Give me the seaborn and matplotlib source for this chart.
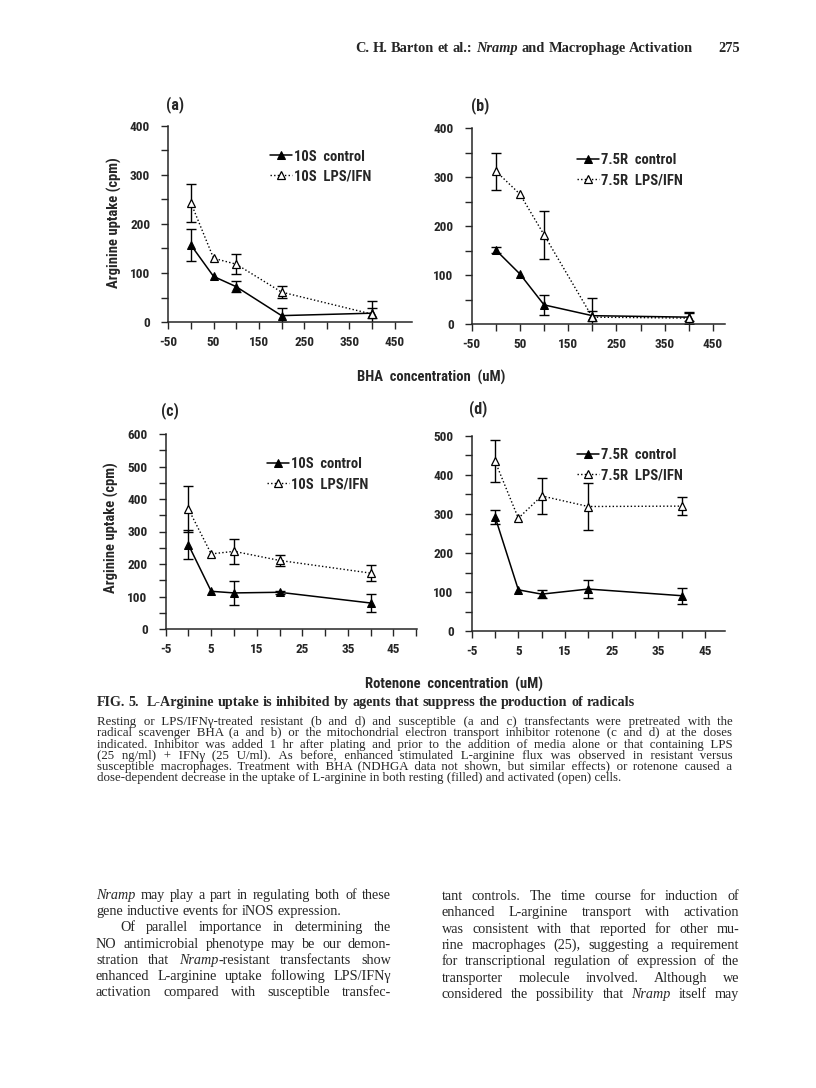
import numpy as np
import matplotlib
matplotlib.use('Agg')
import matplotlib.pyplot as plt
import seaborn as sns
from matplotlib import font_manager
from matplotlib.ticker import FixedLocator

# ---- data ----
bha_dose = [0, 50, 100, 200, 400]
rot_dose = [0, 5, 10, 20, 40]

a_ctrl = [157, 93, 72, 13, 18]
a_ctrl_err = [33, 0, 11, 15, 10]
a_lps = [243, 130, 118, 61, 16]
a_lps_err = [39, 0, 20, 12, 26]

b_ctrl = [151, 102, 39, 17, 14]
b_ctrl_err = [7, 0, 21, 10, 8]
b_lps = [312, 265, 182, 14, 12]
b_lps_err = [38, 0, 49, 40, 12]

c_ctrl = [259, 116, 111, 113, 80]
c_ctrl_err = [45, 0, 36, 5, 29]
c_lps = [369, 231, 239, 211, 172]
c_lps_err = [72, 0, 38, 16, 25]

d_ctrl = [293, 106, 95, 108, 91]
d_ctrl_err = [18, 0, 10, 24, 20]
d_lps = [435, 289, 346, 319, 320]
d_lps_err = [54, 0, 45, 60, 23]

bha_ticks = [-50, 50, 150, 250, 350, 450]
rot_ticks = [-5, 5, 15, 25, 35, 45]

W, H = 816, 1088
sns.set_style('ticks')

# narrow bold sans like the original, if one is installed
installed = {f.name for f in font_manager.fontManager.ttflist}
sans, k = 'Liberation Sans', 0.86
for name in ['Liberation Sans Narrow', 'Roboto Condensed', 'Open Sans Condensed']:
    if name in installed:
        sans, k = name, 1.0
        break
plt.rcParams['font.family'] = sans
plt.rcParams['font.weight'] = 'bold'
plt.rcParams['axes.unicode_minus'] = False

LAB = 10.5 * k     # labels / legend
TICK = 9.5

fig = plt.figure(figsize=(W / 100, H / 100), dpi=100)
fig.patch.set_facecolor('white')


def add_ax(left, top, right, bottom):
    return fig.add_axes([left / W, 1 - bottom / H, (right - left) / W, (bottom - top) / H])


def draw_panel(ax, x, ctrl, ctrl_err, lps, lps_err, name, xlim, ylim, xticks, ystep):
    sns.lineplot(x=x, y=ctrl, ax=ax, color='black', lw=1.1, marker='^', markersize=6,
                 markerfacecolor='black', markeredgecolor='black', errorbar=None,
                 label=f'{name}  control')
    sns.lineplot(x=x, y=lps, ax=ax, color='black', lw=1.0, linestyle=(0, (1, 1.6)),
                 marker='^', markersize=6, markerfacecolor='white', markeredgecolor='black',
                 markeredgewidth=0.9, errorbar=None, label=f'{name}  LPS/IFN')
    for yy, ee in [(ctrl, ctrl_err), (lps, lps_err)]:
        xs = np.array(x, float)
        yy = np.array(yy, float)
        ee = np.array(ee, float)
        m = ee > 0
        ax.errorbar(xs[m], yy[m], yerr=ee[m], fmt='none', ecolor='black',
                    elinewidth=1.0, capsize=3.3, capthick=1.0, zorder=1)
    ax.set_xlim(*xlim)
    ax.set_ylim(*ylim)
    ax.xaxis.set_major_locator(FixedLocator(xticks))
    step = xticks[1] - xticks[0]
    ax.xaxis.set_minor_locator(FixedLocator([t + step / 2 for t in xticks]))
    ax.yaxis.set_major_locator(FixedLocator(np.arange(0, ylim[1] + 1, ystep)))
    ax.yaxis.set_minor_locator(FixedLocator(np.arange(ystep / 2, ylim[1], ystep)))
    sns.despine(ax=ax)
    for s in ['left', 'bottom']:
        ax.spines[s].set_linewidth(1.1)
    ax.tick_params(axis='both', which='both', direction='out', length=5, width=1.0)
    ax.tick_params(axis='y', which='major', pad=8, labelsize=TICK)
    ax.tick_params(axis='x', which='major', pad=5, labelsize=TICK)
    for lab in ax.get_xticklabels() + ax.get_yticklabels():
        lab.set_fontweight('bold')
    ax.set_xlabel('')
    ax.set_ylabel('')
    ax.set_facecolor('white')


def legend(ax, bx, by):
    ax.legend(loc='upper left', bbox_to_anchor=(bx, by), frameon=False,
              handlelength=1.5, handletextpad=0.15, labelspacing=0.4, borderpad=0,
              borderaxespad=0, numpoints=1, prop={'weight': 'bold', 'size': LAB})


ax_a = add_ax(168.3, 126, 412, 322)
ax_b = add_ax(471.7, 128, 725, 324)
ax_c = add_ax(165.7, 434, 417, 629)
ax_d = add_ax(471.7, 435.7, 725, 631.3)

draw_panel(ax_a, bha_dose, a_ctrl, a_ctrl_err, a_lps, a_lps_err, '10S', (-50, 488), (0, 400), bha_ticks, 100)
draw_panel(ax_b, bha_dose, b_ctrl, b_ctrl_err, b_lps, b_lps_err, '7.5R', (-50, 475), (0, 400), bha_ticks, 100)
draw_panel(ax_c, rot_dose, c_ctrl, c_ctrl_err, c_lps, c_lps_err, '10S', (-5, 50.2), (0, 600), rot_ticks, 100)
draw_panel(ax_d, rot_dose, d_ctrl, d_ctrl_err, d_lps, d_lps_err, '7.5R', (-5, 49.3), (0, 500), rot_ticks, 100)

legend(ax_a, 0.417, 0.88)
legend(ax_b, 0.416, 0.87)
legend(ax_c, 0.403, 0.88)
legend(ax_d, 0.416, 0.935)

for ax, xf, yf in [(ax_a, -0.19, 0.505), (ax_c, -0.186, 0.52)]:
    ax.set_ylabel('Arginine uptake (cpm)', fontsize=LAB, fontweight='bold')
    ax.yaxis.set_label_coords(xf, yf)


def ftext(x, y, s, **kw):
    return fig.text(x / W, 1 - y / H, s, **kw)


for lab, x, y in [('(a)', 175, 105), ('(b)', 480, 106), ('(c)', 170, 411), ('(d)', 478, 409)]:
    ftext(x, y, lab, ha='center', va='center', fontsize=11.5, fontweight='bold')

ftext(431, 377, 'BHA  concentration  (uM)', ha='center', va='center', fontsize=LAB, fontweight='bold')
ftext(454, 684, 'Rotenone  concentration  (uM)', ha='center', va='center', fontsize=LAB, fontweight='bold')

# ---- page text ----
serif = 'Liberation Serif'
HAIR = '\u200a'
renderer = fig.canvas.get_renderer()


def text_width(s, size, style='normal', weight='normal'):
    t = fig.text(0, 0, s, fontsize=size, style=style, fontweight=weight, family=serif)
    w = t.get_window_extent(renderer).width
    t.remove()
    return w


def put_line(x0, x1, y, text, size, weight='normal', justify=True, per_word=True):
    """Justified line; per_word draws one text per word, otherwise one text per
    style run with hair spaces filling the gaps (keeps small type level)."""
    y = round(y)
    words = text.split(' ')
    parts = [[(s, 'italic' if i % 2 else 'normal') for i, s in enumerate(w.split('_')) if s]
             for w in words]
    pw = [[text_width(s, size, st, weight) for s, st in p] for p in parts]
    sp = text_width('a a', size, 'normal', weight) - text_width('aa', size, 'normal', weight)
    hs = text_width('a' + HAIR + 'a', size, 'normal', weight) - text_width('aa', size, 'normal', weight)
    n = len(words) - 1
    total = sum(sum(w) for w in pw)
    gap = sp
    if justify and n > 0:
        gap = max((x1 - x0 - total) / n, sp)
    if not (0 < hs < 0.6 * sp):
        per_word = True
    kw = dict(fontsize=size, fontweight=weight, family=serif, ha='left', va='baseline')
    if per_word:
        x = x0
        for p, ws in zip(parts, pw):
            for (s, st), w in zip(p, ws):
                ftext(x, y, s, style=st, **kw)
                x += w
            x += gap
        return
    extra = gap - sp
    runs, x, done = [], x0, 0
    for j, (p, ws) in enumerate(zip(parts, pw)):
        for (s, st), w in zip(p, ws):
            if runs and runs[-1][1] == st:
                runs[-1][2] += s
            else:
                runs.append([x, st, s])
            x += w
        if j < n:
            tgt = int(round((j + 1) * extra / hs))
            kk = tgt - done
            done = tgt
            x += sp + kk * hs
            runs[-1][2] += ' ' + HAIR * kk
    for rx, st, s in runs:
        ftext(rx, y, s.rstrip(' ' + HAIR), style=st, **kw)


put_line(355, 700, 52, 'C. H. Barton et al.: _Nramp_ and Macrophage Activation', 10.4, 'bold', False)
put_line(718, 760, 52, '275', 10.4, 'bold', False)

put_line(97, 733, 706, 'FIG. 5.  L-Arginine uptake is inhibited by agents that suppress the production of radicals',
         10.2, 'bold', False)
caption = [
    'Resting or LPS/IFNγ-treated resistant (b and d) and susceptible (a and c) transfectants were pretreated with the',
    'radical scavenger BHA (a and b) or the mitochondrial electron transport inhibitor rotenone (c and d) at the doses',
    'indicated. Inhibitor was added 1 hr after plating and prior to the addition of media alone or that containing LPS',
    '(25 ng/ml) + IFNγ (25 U/ml). As before, enhanced stimulated L-arginine flux was observed in resistant versus',
    'susceptible macrophages. Treatment with BHA (NDHGA data not shown, but similar effects) or rotenone caused a',
    'dose-dependent decrease in the uptake of L-arginine in both resting (filled) and activated (open) cells.',
]
for i, line in enumerate(caption):
    put_line(97, 733, 725 + i * 11.25, line, 9.3, 'normal', i < len(caption) - 1, per_word=False)

left_col = [
    ('_Nramp_ may play a part in regulating both of these', 96, True),
    ('gene inductive events for iNOS expression.', 96, False),
    ('Of parallel importance in determining the', 120, True),
    ('NO antimicrobial phenotype may be our demon-', 96, True),
    ('stration that _Nramp_-resistant transfectants show', 96, True),
    ('enhanced L-arginine uptake following LPS/IFNγ', 96, True),
    ('activation compared with susceptible transfec-', 96, True),
]
right_col = [
    'tant controls. The time course for induction of',
    'enhanced L-arginine transport with activation',
    'was consistent with that reported for other mu-',
    'rine macrophages (25), suggesting a requirement',
    'for transcriptional regulation of expression of the',
    'transporter molecule involved. Although we',
    'considered the possibility that _Nramp_ itself may',
]
for i, (line, x0, just) in enumerate(left_col):
    put_line(x0, 391, 899 + i * 16.2, line, 10.2, 'normal', just)
for i, line in enumerate(right_col):
    put_line(442, 739, 900 + i * 16.3, line, 10.2, 'normal', True)

fig.savefig('out.png', dpi=100, facecolor='white')
